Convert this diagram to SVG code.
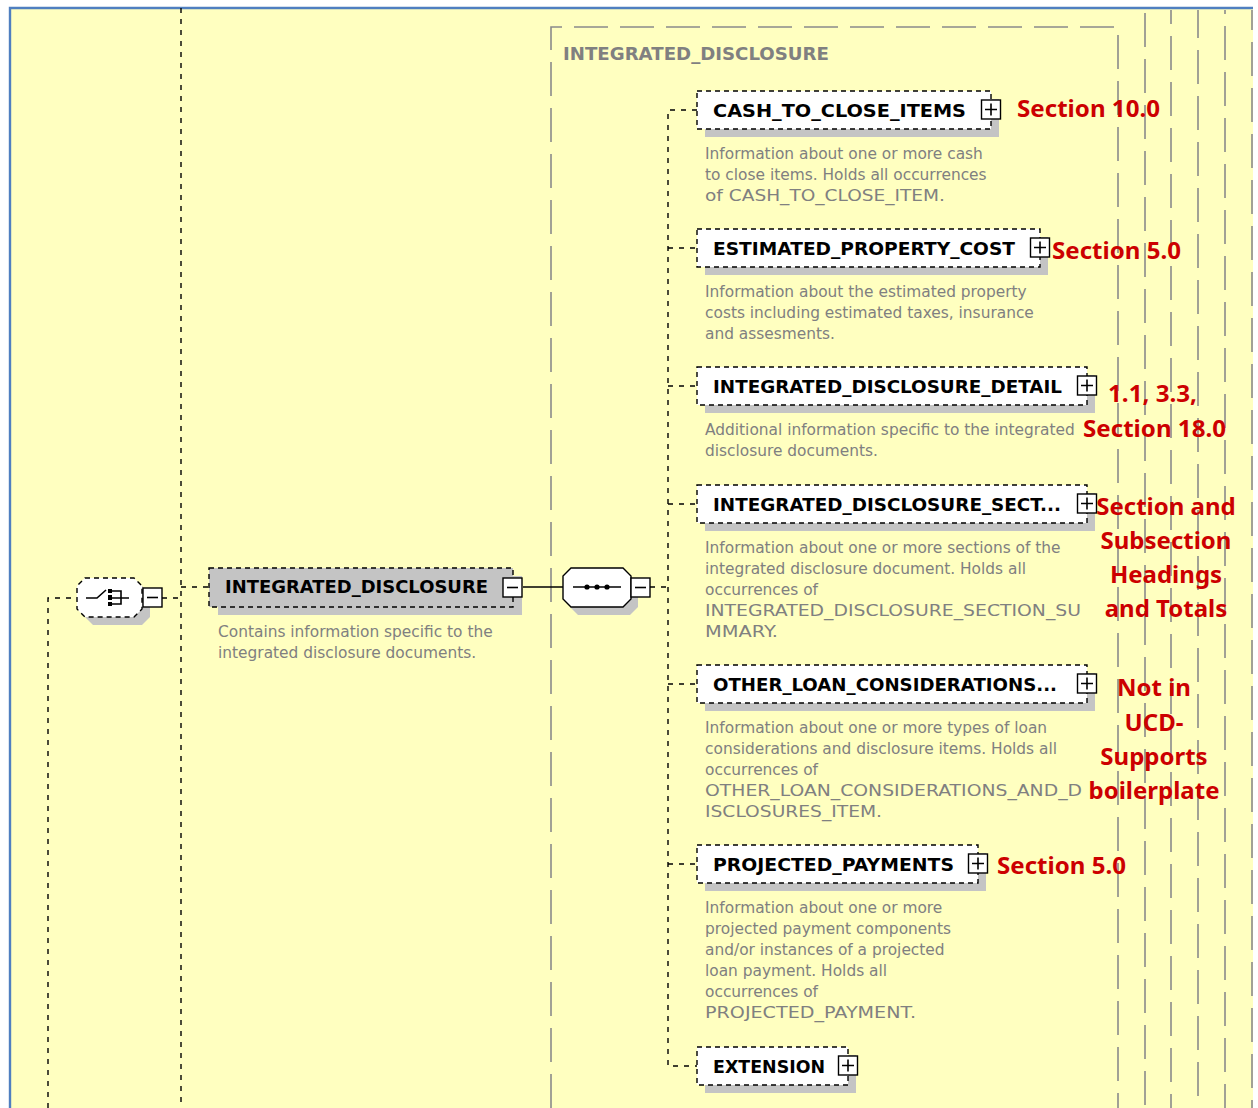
<svg xmlns="http://www.w3.org/2000/svg" width="1258" height="1108" viewBox="0 0 1258 1108">
<style>
.conn{stroke:#000;stroke-width:1.4;stroke-dasharray:5 6;fill:none}
.solid{stroke:#000;stroke-width:1.4;fill:none}
.box{fill:#fff;stroke:#000;stroke-width:1.4;stroke-dasharray:5 4}
.rootbox{fill:#c4c4c4;stroke:#000;stroke-width:1.4;stroke-dasharray:5 4}
.shadow{fill:#c4c4c4}
.lbl{font-family:"DejaVu Sans",sans-serif;font-weight:bold;font-size:18.5px;fill:#000}
.desc{font-family:"DejaVu Sans",sans-serif;font-size:15.4px;fill:#808080}
.red{font-family:"Noto Sans",sans-serif;font-weight:bold;font-size:24px;fill:#cc0000}
.gdash{stroke:#8a8a8a;stroke-width:1.6;stroke-dasharray:34 12;fill:none}
.pmr{fill:#fff;stroke:#000;stroke-width:1.4}
.pml{stroke:#000;stroke-width:1.6;fill:none}
.title{font-family:"DejaVu Sans",sans-serif;font-weight:bold;font-size:18px;fill:#808080}
</style>
<rect x="0" y="0" width="1258" height="1108" fill="#fff"/>
<rect x="10" y="8" width="1243" height="1100" fill="#ffffc0"/>
<path d="M10,1108 V8 H1253" stroke="#4f7fc0" stroke-width="2.4" fill="none"/>

<g id="containers">
<path class="gdash" d="M551,1108 V27 H1118 V1108"/>
<line class="gdash" x1="1145" y1="13" x2="1145" y2="1108" stroke-dashoffset="0"/>
<line class="gdash" x1="1171" y1="10" x2="1171" y2="1108" stroke-dashoffset="20"/>
<line class="gdash" x1="1198" y1="10" x2="1198" y2="1108" stroke-dashoffset="6"/>
<line class="gdash" x1="1225" y1="10" x2="1225" y2="1108" stroke-dashoffset="30"/>
<line class="gdash" x1="1252" y1="10" x2="1252" y2="1108" stroke-dashoffset="14"/>
<text class="title" x="563" y="60" textLength="266" lengthAdjust="spacingAndGlyphs">INTEGRATED_DISCLOSURE</text>
</g>

<g id="connectors">
<line class="conn" x1="181" y1="8" x2="181" y2="1108"/>
<path class="conn" d="M48,1108 V598 H77"/>
<line class="conn" x1="162" y1="598" x2="181" y2="598"/>
<line class="conn" x1="181" y1="587" x2="209" y2="587"/>
<line class="solid" x1="523" y1="587" x2="563" y2="587"/>
<line class="conn" x1="650" y1="587" x2="668" y2="587"/>
<path class="conn" d="M697,110 H668 V1066 H697"/>
<line class="conn" x1="668" y1="248" x2="697" y2="248"/>
<line class="conn" x1="668" y1="386" x2="697" y2="386"/>
<line class="conn" x1="668" y1="504" x2="697" y2="504"/>
<line class="conn" x1="668" y1="684" x2="697" y2="684"/>
<line class="conn" x1="668" y1="864" x2="697" y2="864"/>
</g>

<g id="choice">
<path class="shadow" d="M93,586 H142 L150,594 V617 L142,625 H93 L85,617 V594 Z"/>
<path d="M85,578 H134 L142,586 V609 L134,617 H85 L77,609 V586 Z" fill="#fff" stroke="#000" stroke-width="1.4" stroke-dasharray="5 4"/>
<path class="pml" d="M86,598 H97 L106,590"/>
<rect x="108" y="589" width="4" height="4" fill="#000"/>
<rect x="108" y="595" width="4" height="5" fill="#000"/>
<rect x="108" y="602" width="4" height="4" fill="#000"/>
<path class="pml" d="M112,591 H121 V604 H112 M112,598 H129" stroke-width="1.4"/>
<rect class="pmr" x="143" y="588" width="19" height="19"/>
<path class="pml" d="M147,597.5 H158"/>
</g>

<g id="INTEGRATED_DISCLOSURE">
<rect class="shadow" x="218" y="576" width="304" height="39"/>
<rect class="rootbox" x="209" y="568" width="304" height="39"/>
<text class="lbl" x="225" y="593" textLength="263" lengthAdjust="spacingAndGlyphs">INTEGRATED_DISCLOSURE</text>
<rect class="pmr" x="503" y="578" width="19" height="19"/>
<path class="pml" d="M507,587.5 H518"/>
<text class="desc" x="218" y="637">Contains information specific to the</text>
<text class="desc" x="218" y="658">integrated disclosure documents.</text>
</g>

<g id="sequence">
<path class="shadow" d="M578,576 H630 L638,584 V607 L630,615 H578 L570,607 V584 Z"/>
<path d="M571,568 H623 L631,576 V599 L623,607 H571 L563,599 V576 Z" fill="#fff" stroke="#000" stroke-width="1.4"/>
<line class="solid" x1="573" y1="587" x2="621" y2="587"/>
<circle cx="587" cy="587" r="2.6" fill="#000"/>
<circle cx="597" cy="587" r="2.6" fill="#000"/>
<circle cx="607" cy="587" r="2.6" fill="#000"/>
<rect class="pmr" x="631" y="578" width="19" height="19"/>
<path class="pml" d="M635,587.5 H646"/>
</g>

<g id="CASH_TO_CLOSE_ITEMS">
<rect class="shadow" x="705" y="99" width="294" height="38"/>
<rect class="box" x="697" y="91" width="294" height="38"/>
<text class="lbl" x="713" y="116.5" textLength="253" lengthAdjust="spacingAndGlyphs">CASH_TO_CLOSE_ITEMS</text>
<rect class="pmr" x="981.5" y="100" width="19" height="19"/>
<path class="pml" d="M985,109.5 H997 M991,103.5 V115.5"/>
<text class="desc" x="705" y="159">Information about one or more cash</text>
<text class="desc" x="705" y="180">to close items. Holds all occurrences</text>
<text class="desc" x="705" y="201" textLength="240" lengthAdjust="spacingAndGlyphs">of CASH_TO_CLOSE_ITEM.</text>
<text class="red" x="1017" y="117" textLength="143" lengthAdjust="spacingAndGlyphs">Section 10.0</text>
</g>

<g id="ESTIMATED_PROPERTY_COST">
<rect class="shadow" x="705" y="237" width="343" height="38"/>
<rect class="box" x="697" y="229" width="343" height="38"/>
<text class="lbl" x="713" y="254.5" textLength="302" lengthAdjust="spacingAndGlyphs">ESTIMATED_PROPERTY_COST</text>
<rect class="pmr" x="1030.5" y="238" width="19" height="19"/>
<path class="pml" d="M1034,247.5 H1046 M1040,241.5 V253.5"/>
<text class="desc" x="705" y="297">Information about the estimated property</text>
<text class="desc" x="705" y="318">costs including estimated taxes, insurance</text>
<text class="desc" x="705" y="339">and assesments.</text>
<text class="red" x="1052" y="259" textLength="129" lengthAdjust="spacingAndGlyphs">Section 5.0</text>
</g>

<g id="INTEGRATED_DISCLOSURE_DETAIL">
<rect class="shadow" x="705" y="375" width="390" height="38"/>
<rect class="box" x="697" y="367" width="390" height="38"/>
<text class="lbl" x="713" y="392.5" textLength="349" lengthAdjust="spacingAndGlyphs">INTEGRATED_DISCLOSURE_DETAIL</text>
<rect class="pmr" x="1077.5" y="376" width="19" height="19"/>
<path class="pml" d="M1081,385.5 H1093 M1087,379.5 V391.5"/>
<text class="desc" x="705" y="435">Additional information specific to the integrated</text>
<text class="desc" x="705" y="456">disclosure documents.</text>
<text class="red" x="1108" y="402" textLength="89" lengthAdjust="spacingAndGlyphs">1.1, 3.3,</text>
<text class="red" x="1083" y="437" textLength="143" lengthAdjust="spacingAndGlyphs">Section 18.0</text>
</g>

<g id="INTEGRATED_DISCLOSURE_SECTION_SUMMARY">
<rect class="shadow" x="705" y="493" width="390" height="38"/>
<rect class="box" x="697" y="485" width="390" height="38"/>
<text class="lbl" x="713" y="510.5" textLength="348" lengthAdjust="spacingAndGlyphs">INTEGRATED_DISCLOSURE_SECT...</text>
<rect class="pmr" x="1077.5" y="494" width="19" height="19"/>
<path class="pml" d="M1081,503.5 H1093 M1087,497.5 V509.5"/>
<text class="desc" x="705" y="553">Information about one or more sections of the</text>
<text class="desc" x="705" y="574">integrated disclosure document. Holds all</text>
<text class="desc" x="705" y="595">occurrences of</text>
<text class="desc" x="705" y="616" textLength="376" lengthAdjust="spacingAndGlyphs">INTEGRATED_DISCLOSURE_SECTION_SU</text>
<text class="desc" x="705" y="637" textLength="73" lengthAdjust="spacingAndGlyphs">MMARY.</text>
<text class="red" x="1166" y="515" text-anchor="middle">Section and</text>
<text class="red" x="1166" y="549" text-anchor="middle">Subsection</text>
<text class="red" x="1166" y="583" text-anchor="middle">Headings</text>
<text class="red" x="1166" y="617" text-anchor="middle">and Totals</text>
</g>

<g id="OTHER_LOAN_CONSIDERATIONS_AND_DISCLOSURES">
<rect class="shadow" x="705" y="673" width="390" height="38"/>
<rect class="box" x="697" y="665" width="390" height="38"/>
<text class="lbl" x="713" y="690.5" textLength="344" lengthAdjust="spacingAndGlyphs">OTHER_LOAN_CONSIDERATIONS...</text>
<rect class="pmr" x="1077.5" y="674" width="19" height="19"/>
<path class="pml" d="M1081,683.5 H1093 M1087,677.5 V689.5"/>
<text class="desc" x="705" y="733">Information about one or more types of loan</text>
<text class="desc" x="705" y="754">considerations and disclosure items. Holds all</text>
<text class="desc" x="705" y="775">occurrences of</text>
<text class="desc" x="705" y="796" textLength="377" lengthAdjust="spacingAndGlyphs">OTHER_LOAN_CONSIDERATIONS_AND_D</text>
<text class="desc" x="705" y="817" textLength="177" lengthAdjust="spacingAndGlyphs">ISCLOSURES_ITEM.</text>
<text class="red" x="1154" y="696" text-anchor="middle">Not in</text>
<text class="red" x="1154" y="731" text-anchor="middle">UCD-</text>
<text class="red" x="1154" y="765" text-anchor="middle">Supports</text>
<text class="red" x="1154" y="799" text-anchor="middle">boilerplate</text>
</g>

<g id="PROJECTED_PAYMENTS">
<rect class="shadow" x="705" y="853" width="281" height="38"/>
<rect class="box" x="697" y="845" width="281" height="38"/>
<text class="lbl" x="713" y="870.5" textLength="241" lengthAdjust="spacingAndGlyphs">PROJECTED_PAYMENTS</text>
<rect class="pmr" x="968.5" y="854" width="19" height="19"/>
<path class="pml" d="M972,863.5 H984 M978,857.5 V869.5"/>
<text class="desc" x="705" y="913">Information about one or more</text>
<text class="desc" x="705" y="934">projected payment components</text>
<text class="desc" x="705" y="955">and/or instances of a projected</text>
<text class="desc" x="705" y="976">loan payment. Holds all</text>
<text class="desc" x="705" y="997">occurrences of</text>
<text class="desc" x="705" y="1018" textLength="211" lengthAdjust="spacingAndGlyphs">PROJECTED_PAYMENT.</text>
<text class="red" x="997" y="874" textLength="129" lengthAdjust="spacingAndGlyphs">Section 5.0</text>
</g>

<g id="EXTENSION">
<rect class="shadow" x="705" y="1055" width="151" height="38"/>
<rect class="box" x="697" y="1047" width="151" height="38"/>
<text class="lbl" x="713" y="1072.5" textLength="112" lengthAdjust="spacingAndGlyphs">EXTENSION</text>
<rect class="pmr" x="838.5" y="1056" width="19" height="19"/>
<path class="pml" d="M842,1065.5 H854 M848,1059.5 V1071.5"/>
</g>
</svg>
